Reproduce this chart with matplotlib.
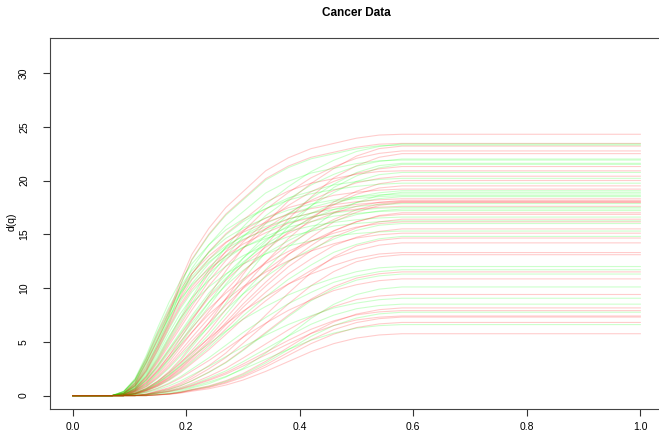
import matplotlib
matplotlib.use("Agg")
import matplotlib.pyplot as plt
import numpy as np

plt.rcParams['font.family'] = ['Liberation Sans', 'DejaVu Sans']

# quantile grid on which the cumulative curves are sampled
q_grid = [0.0, 0.07, 0.09, 0.11, 0.13, 0.15, 0.17, 0.19, 0.21, 0.24,
          0.27, 0.30, 0.34, 0.38, 0.42, 0.46, 0.50, 0.54, 0.58, 1.0]

# curve shapes as a fraction of each sample's final level
shape_steep_a = [0, 0, 0.02, 0.08, 0.19, 0.32, 0.44, 0.54, 0.62, 0.71,
                 0.78, 0.83, 0.88, 0.92, 0.95, 0.97, 0.985, 0.995, 1, 1]
shape_steep_b = [0, 0, 0.01, 0.05, 0.13, 0.24, 0.36, 0.47, 0.56, 0.66,
                 0.74, 0.80, 0.86, 0.91, 0.94, 0.97, 0.985, 0.995, 1, 1]
shape_early = [0, 0, 0.01, 0.05, 0.13, 0.22, 0.32, 0.44, 0.54, 0.64,
               0.72, 0.78, 0.86, 0.91, 0.945, 0.965, 0.985, 0.997, 1, 1]
shape_mid_a = [0, 0, 0.005, 0.03, 0.08, 0.15, 0.23, 0.31, 0.39, 0.50,
               0.59, 0.67, 0.76, 0.83, 0.89, 0.935, 0.97, 0.99, 1, 1]
shape_mid_b = [0, 0, 0, 0.02, 0.05, 0.10, 0.16, 0.23, 0.30, 0.40,
               0.50, 0.59, 0.69, 0.78, 0.85, 0.91, 0.96, 0.99, 1, 1]
shape_slow = [0, 0, 0, 0.01, 0.03, 0.06, 0.10, 0.15, 0.21, 0.30,
              0.40, 0.50, 0.62, 0.73, 0.82, 0.90, 0.95, 0.985, 1, 1]
shape_late = [0, 0, 0, 0, 0.01, 0.03, 0.05, 0.08, 0.12, 0.19,
              0.27, 0.37, 0.51, 0.65, 0.78, 0.88, 0.95, 0.985, 1, 1]
shape_latest = [0, 0, 0, 0, 0, 0.01, 0.02, 0.04, 0.07, 0.11,
                0.17, 0.25, 0.39, 0.55, 0.71, 0.84, 0.93, 0.98, 1, 1]
shapes = {"steep_a": shape_steep_a, "steep_b": shape_steep_b,
          "early": shape_early, "mid_a": shape_mid_a, "mid_b": shape_mid_b,
          "slow": shape_slow, "late": shape_late, "latest": shape_latest}

# final level of each sample, its group and its curve shape
final_level = [24.3, 23.45, 23.4, 23.3, 23.2, 22.75, 22.5, 22.0, 21.9, 21.6,
               21.5, 21.3, 20.9, 20.75, 20.4, 20.2, 20.0, 19.75, 19.5, 19.2,
               19.05, 18.9, 18.75, 18.6, 18.5, 18.3, 18.15, 18.05, 18.0, 17.95,
               17.85, 17.6, 17.5, 17.35, 17.2, 17.0, 16.85, 16.6, 16.4, 16.25,
               16.15, 16.0, 15.5, 15.3, 15.1, 14.8, 14.65, 14.2,
               13.3, 13.1, 12.0, 11.7, 11.5, 11.3, 10.85, 10.1, 9.4, 9.05,
               8.5, 8.15, 7.9, 7.75, 7.4, 7.3, 6.8, 6.6, 5.75]
group = ["r", "r", "g", "g", "r", "r", "r", "g", "g", "g",
         "g", "r", "r", "g", "r", "g", "r", "g", "r", "r",
         "g", "g", "g", "g", "g", "r", "r", "r", "r", "r",
         "g", "r", "g", "g", "g", "r", "r", "g", "r", "g",
         "r", "g", "r", "g", "r", "g", "r", "r",
         "r", "r", "g", "g", "r", "g", "r", "g", "r", "g",
         "g", "r", "r", "g", "r", "r", "r", "g", "r"]
shape_of = ["early", "early", "mid_a", "early", "mid_b", "mid_a", "slow", "mid_a", "early", "mid_b",
            "slow", "mid_a", "early", "mid_b", "mid_a", "steep_b", "slow", "steep_a", "mid_b", "steep_b",
            "mid_a", "slow", "steep_a", "steep_b", "mid_a", "steep_a", "mid_a", "steep_b", "mid_b", "slow",
            "steep_a", "steep_b", "steep_a", "mid_a", "steep_b", "slow", "mid_b", "steep_a", "slow", "steep_b",
            "mid_a", "mid_b", "slow", "steep_b", "mid_a", "slow", "late", "slow",
            "mid_b", "late", "mid_b", "slow", "late", "late", "slow", "latest", "late", "slow",
            "late", "latest", "late", "latest", "late", "latest", "latest", "late", "latest"]

colours = {"r": (1.0, 0.0, 0.0, 0.2), "g": (0.0, 1.0, 0.0, 0.2)}

fig = plt.figure(figsize=(6.59, 4.33), dpi=100)
ax = fig.add_axes([0.0757, 0.0547, 0.9304, 0.8582])

q = np.array(q_grid)
for level, grp, shp in zip(final_level, group, shape_of):
    ax.plot(q, level * np.array(shapes[shp]), color=colours[grp], lw=0.8)

ax.set_xlim(-0.04, 1.04)
ax.set_ylim(-1.28, 33.28)
ax.set_xticks([0.0, 0.2, 0.4, 0.6, 0.8, 1.0])
ax.set_xticklabels(["0.0", "0.2", "0.4", "0.6", "0.8", "1.0"])
ax.set_yticks([0, 5, 10, 15, 20, 25, 30])
ax.tick_params(axis="both", direction="out", length=5, width=0.8,
               color="#333333", labelsize=7.5)
ax.tick_params(axis="x", pad=4)
ax.tick_params(axis="y", pad=10)
for lbl in ax.get_yticklabels():
    lbl.set_rotation(90)
    lbl.set_va("center")
for sp in ax.spines.values():
    sp.set_color("#444444")
    sp.set_linewidth(0.8)

fig.text(12 / 659, 1 - 222 / 433, "d(q)", rotation=90, ha="center", va="center", fontsize=7.5)
fig.text(356.5 / 659, 1 - 13 / 433, "Cancer Data", ha="center", va="center",
         fontsize=8.5, fontweight="bold")

fig.savefig("out.png", dpi=100)
